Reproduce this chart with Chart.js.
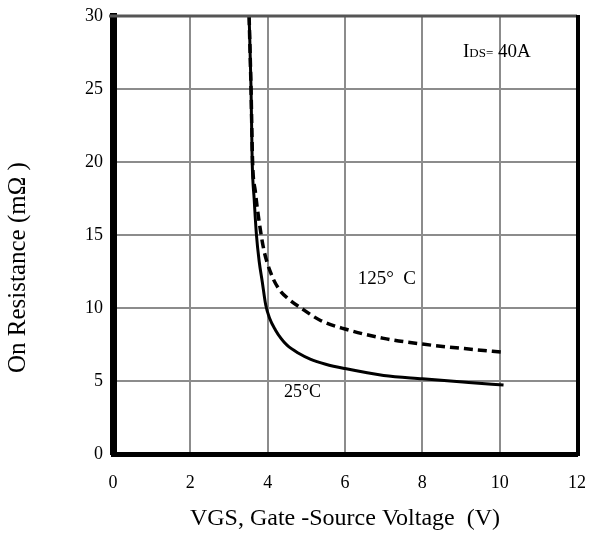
<!DOCTYPE html>
<html>
<head>
<meta charset="utf-8">
<script src="https://cdn.jsdelivr.net/npm/chart.js@4/dist/chart.umd.min.js"></script>
<style>
  html, body { margin: 0; padding: 0; background: #fff; }
  #wrap { width: 590px; height: 538px; }
</style>
</head>
<body>
<div id="wrap"><canvas id="rdsGraph"></canvas></div>
<script>
// on resistance vs gate-source voltage
var vgs25 = [3.52, 3.57, 3.60, 3.65, 3.71, 3.78, 3.86, 3.95, 4.05, 4.2, 4.35, 4.5, 4.8, 5.1, 5.5, 6.0, 7.0, 8.0, 9.2, 10.1];
var rds25 = [30, 25, 20, 17.5, 15, 13.2, 11.8, 10.2, 9.3, 8.5, 7.9, 7.45, 6.9, 6.5, 6.15, 5.85, 5.38, 5.15, 4.9, 4.72];

var vgs125 = [3.52, 3.57, 3.61, 3.68, 3.77, 3.90, 4.08, 4.29, 4.55, 4.86, 5.38, 6.0, 7.0, 8.0, 9.2, 10.1];
var rds125 = [30, 25, 20, 18, 16.1, 14.0, 12.4, 11.3, 10.6, 10.0, 9.13, 8.56, 7.92, 7.53, 7.19, 6.97];

var xTicks = [0, 2, 4, 6, 8, 10, 12];
var yTicks = [0, 5, 10, 15, 20, 25, 30];

var serif = '"Liberation Serif", "Times New Roman", serif';

function toPoints(xs, ys) {
    return xs.map((x, i) => {
        return { x: x, y: ys[i] }
    });
}

// frame top/right, y title and the text notes inside the plot
var notesPlugin = {
    id: 'notes',
    afterDraw: function (chart) {
        var ctx = chart.ctx;
        var a = chart.chartArea;
        var xs = chart.scales.x, ys = chart.scales.y;
        ctx.save();
        ctx.strokeStyle = '#555';
        ctx.lineWidth = 3;
        ctx.beginPath();
        ctx.moveTo(a.left - 4, a.top);
        ctx.lineTo(a.right, a.top);
        ctx.stroke();
        ctx.strokeStyle = '#000';
        ctx.lineWidth = 4;
        ctx.beginPath();
        ctx.moveTo(a.right + 1, a.top - 1);
        ctx.lineTo(a.right + 1, a.bottom + 2);
        ctx.stroke();

        ctx.fillStyle = '#000';
        // y axis title, reads upward starting level with ~8 mOhm
        ctx.save();
        ctx.translate(18, 373);
        ctx.rotate(-Math.PI / 2);
        ctx.font = '25px ' + serif;
        ctx.textAlign = 'left';
        ctx.textBaseline = 'middle';
        ctx.fillText('On Resistance (m\u03A9 )', 0, 0);
        ctx.restore();

        ctx.textBaseline = 'middle';
        ctx.textAlign = 'left';
        var px = xs.getPixelForValue(9.05), py = ys.getPixelForValue(27.5);
        ctx.font = '19px ' + serif;
        ctx.fillText('I', px, py);
        var w = ctx.measureText('I').width;
        ctx.font = '13px ' + serif;
        ctx.fillText('DS=', px + w, py + 1);
        w += ctx.measureText('DS=').width;
        ctx.font = '19px ' + serif;
        ctx.fillText(' 40A', px + w, py);

        ctx.fillText('125\u00B0  C', xs.getPixelForValue(6.33), ys.getPixelForValue(12.0));
        ctx.font = '18px ' + serif;
        ctx.fillText('25\u00B0C', xs.getPixelForValue(4.42), ys.getPixelForValue(4.2));
        ctx.restore();
    }
};

new Chart(document.getElementById('rdsGraph').getContext('2d'), {
    type: 'scatter',
    data: {
        datasets: [{
            label: '25C',
            data: toPoints(vgs25, rds25),
            showLine: true,
            borderColor: '#000',
            borderWidth: 3,
            pointRadius: 0,
            cubicInterpolationMode: 'monotone'
        }, {
            label: '125C',
            data: toPoints(vgs125, rds125),
            showLine: true,
            borderColor: '#000',
            borderWidth: 3.5,
            borderDash: [9, 5],
            pointRadius: 0,
            cubicInterpolationMode: 'monotone'
        }]
    },
    options: {
        responsive: true,
        maintainAspectRatio: false,
        animation: false,
        layout: { padding: { top: 16, right: 13, left: 0, bottom: 0 } },
        plugins: {
            legend: { display: false },
            tooltip: { enabled: false }
        },
        scales: {
            x: {
                type: 'linear',
                min: 0,
                max: 12,
                afterBuildTicks: function (s) { s.ticks = xTicks.map(v => ({ value: v })); },
                afterFit: function (s) { s.height = 84; s.paddingLeft = 0; s.paddingRight = 0; },
                grid: { color: '#8c8c8c', lineWidth: 2, drawTicks: false },
                border: { color: '#000', width: 5 },
                ticks: { color: '#000', padding: 18, font: { family: serif, size: 18 } },
                title: {
                    display: true,
                    text: 'VGS, Gate -Source Voltage  (V)',
                    color: '#000',
                    font: { family: serif, size: 24 },
                    padding: { top: 0, bottom: 5 }
                }
            },
            y: {
                type: 'linear',
                min: 0,
                max: 30,
                afterBuildTicks: function (s) { s.ticks = yTicks.map(v => ({ value: v })); },
                afterFit: function (s) { s.width = 113; s.paddingTop = 0; s.paddingBottom = 0; },
                grid: { color: '#8c8c8c', lineWidth: 2, drawTicks: false },
                border: { color: '#000', width: 7 },
                ticks: { color: '#000', padding: 10, font: { family: serif, size: 18 } }
            }
        }
    },
    plugins: [notesPlugin]
});
</script>
</body>
</html>
